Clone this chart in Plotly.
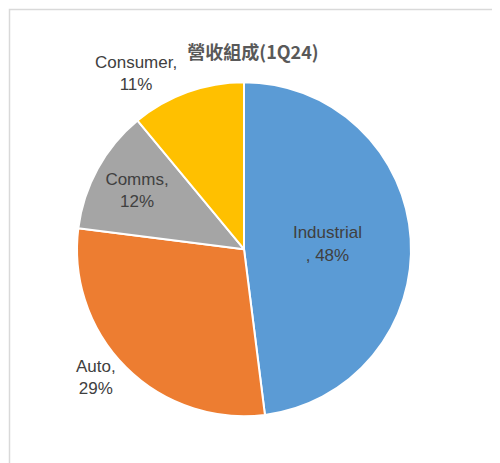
import plotly.graph_objects as go

labels = ["Industrial", "Auto", "Comms", "Consumer"]
values = [48, 29, 12, 11]
label_text = ["Industrial<br>, 48%", "Auto,<br>29%", "Comms,<br>12%", "Consumer,<br>11%"]
colors = ["#5B9BD5", "#ED7D31", "#A5A5A5", "#FFC000"]

fig = go.Figure(go.Pie(
    labels=labels, values=values, text=label_text,
    texttemplate="%{text}", textinfo="text",
    textposition=["inside", "outside", "inside", "outside"],
    insidetextorientation="horizontal",
    sort=False, direction="clockwise", rotation=0,
    marker=dict(colors=colors, line=dict(color="white", width=2)),
    textfont=dict(family="Liberation Sans, Arial", size=17, color="#404040"),
    domain=dict(x=[0.138, 0.806], y=[0.118, 0.840]),
    automargin=False, showlegend=False, hoverinfo="skip",
))
fig.update_layout(
    width=500, height=463, margin=dict(l=0, r=0, t=0, b=0),
    paper_bgcolor="white",
    title=dict(text="<b>營收組成(1Q24)</b>", x=0.49, xanchor="center", y=0.903, yanchor="middle",
               font=dict(family="Noto Sans CJK TC", size=18, color="#595959")),
    shapes=[dict(type="rect", xref="paper", yref="paper", x0=0.003, y0=0.003, x1=0.995, y1=0.997,
                 line=dict(color="#D9D9D9", width=1.5))],
)
fig.write_html("out.html")
